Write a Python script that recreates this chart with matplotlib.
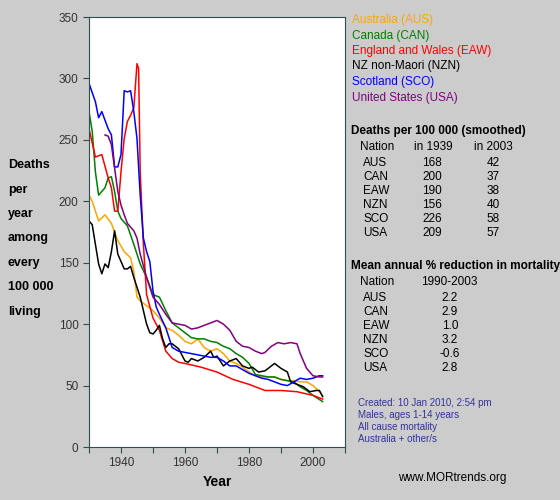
import matplotlib
matplotlib.use('Agg')
import matplotlib.pyplot as plt

plt.rcParams['font.family'] = ['Liberation Sans', 'DejaVu Sans']

# data (deaths per 100 000, smoothed)
aus_yr = [1930,1931,1933,1935,1937,1939,1941,1943,1944,1945,1946,1948,1950,1952,1954,1956,1958,1960,1962,1964,1966,1968,1970,1972,1974,1976,1978,1980,1982,1984,1986,1988,1990,1992,1994,1996,1998,2000,2002,2003]
aus = [205,200,184,189,182,168,159,154,143,122,119,115,111,105,97,95,91,86,84,88,81,78,80,76,70,68,65,61,58,57,57,57,55,54,54,53,53,50,45,42]

can_yr = [1930,1931,1932,1933,1934,1935,1936,1937,1938,1939,1940,1942,1944,1946,1948,1950,1952,1954,1956,1958,1960,1962,1964,1966,1968,1970,1972,1974,1976,1978,1980,1982,1984,1986,1988,1990,1992,1994,1996,1998,2000,2003]
can = [273,257,224,205,208,211,219,220,208,192,186,180,165,149,138,124,122,111,101,97,93,89,88,88,86,85,82,80,76,73,68,59,58,57,57,55,54,53,49,46,42,37]

eaw_yr = [1930,1932,1934,1936,1937,1938,1939,1940,1941,1942,1943,1944,1945,1945.5,1946,1947,1948,1950,1952,1954,1956,1958,1960,1965,1970,1975,1980,1985,1990,1995,2000,2003]
eaw = [259,236,238,219,211,192,192,224,251,265,270,276,312,308,224,165,124,105,95,78,72,69,68,65,61,55,51,46,46,45,42,39]

nzn_yr = [1930,1931,1932,1933,1934,1935,1936,1937,1938,1939,1940,1941,1942,1943,1944,1945,1946,1947,1948,1949,1950,1951,1952,1953,1954,1955,1956,1958,1960,1961,1962,1964,1966,1968,1969,1970,1972,1974,1976,1978,1980,1981,1983,1985,1987,1988,1990,1992,1993,1995,1997,1999,2001,2002,2003]
nzn = [184,181,165,149,141,149,146,159,176,157,151,145,145,147,138,130,122,111,100,93,92,95,99,88,81,84,84,80,70,69,72,70,73,78,73,74,66,70,72,66,64,65,61,62,66,68,64,61,53,51,49,45,46,46,41]

sco_yr = [1930,1932,1933,1934,1936,1937,1938,1939,1940,1941,1942,1943,1944,1945,1946,1947,1948,1949,1950,1951,1952,1954,1956,1958,1960,1962,1964,1966,1968,1970,1972,1974,1976,1978,1980,1982,1984,1986,1988,1990,1992,1994,1996,1998,2000,2002,2003]
sco = [296,281,268,273,259,254,228,228,238,290,289,290,273,251,205,170,159,151,127,114,108,97,81,78,77,76,75,74,73,73,70,66,66,63,60,58,56,55,53,51,50,53,56,55,56,58,58]

usa_yr = [1935,1936,1937,1938,1939,1940,1941,1942,1944,1945,1946,1948,1950,1952,1954,1956,1958,1960,1962,1964,1966,1968,1970,1972,1974,1976,1978,1980,1982,1984,1985,1987,1989,1991,1993,1995,1996,1998,2000,2002,2003]
usa = [254,253,246,227,208,197,189,182,176,170,157,138,122,116,108,101,100,99,96,97,99,101,103,100,95,86,82,81,78,76,77,82,85,84,85,84,76,64,58,57,57]

legend_names = ['Australia (AUS)', 'Canada (CAN)', 'England and Wales (EAW)',
                'NZ non-Maori (NZN)', 'Scotland (SCO)', 'United States (USA)']
colors = ['orange', 'green', 'red', 'black', 'blue', 'purple']
codes = ['AUS', 'CAN', 'EAW', 'NZN', 'SCO', 'USA']
in1939 = ['168', '200', '190', '156', '226', '209']
in2003 = ['42', '37', '38', '40', '58', '57']
reduction = ['2.2', '2.9', '1.0', '3.2', '-0.6', '2.8']

fig = plt.figure(figsize=(5.6, 5.0), dpi=100, facecolor='#cccccc')
ax = fig.add_axes([89/560, 53/500, 256/560, 430/500])
ax.set_facecolor('white')

series = [(aus_yr, aus), (can_yr, can), (eaw_yr, eaw), (nzn_yr, nzn), (sco_yr, sco), (usa_yr, usa)]
for (x, y), c in zip(series, colors):
    ax.plot(x, y, color=c, lw=1.1)

ax.set_xlim(1930, 2010)
ax.set_ylim(0, 350)
ax.set_xticks(range(1930, 2011, 10))
ax.set_xticklabels(['' if t % 20 else str(t) for t in range(1930, 2011, 10)])
ax.set_yticks(range(0, 351, 50))
for s in ax.spines.values():
    s.set_color('#2f4f4f')
ax.tick_params(colors='#2f4f4f', labelcolor='#333333', labelsize=8.5, direction='out', length=4)
ax.set_xlabel('Year', fontsize=10, fontweight='bold', labelpad=4)

def ftext(x, y, s, **kw):
    fig.text(x/560, 1 - y/500, s, va='center', **kw)

for i, lbl in enumerate(['Deaths', 'per', 'year', 'among', 'every', '100 000', 'living']):
    ftext(8, 165 + i*24.5, lbl, fontsize=9, fontweight='bold')

for i, (n, c) in enumerate(zip(legend_names, colors)):
    ftext(352, 20 + i*15.5, n, fontsize=8.5, color=c)

ftext(351, 131, 'Deaths per 100 000 (smoothed)', fontsize=8.5, fontweight='bold')
ftext(360, 147, 'Nation', fontsize=8.5)
ftext(414, 147, 'in 1939', fontsize=8.5)
ftext(474, 147, 'in 2003', fontsize=8.5)
for i in range(6):
    yy = 163 + i*14
    ftext(363, yy, codes[i], fontsize=8.5)
    ftext(432, yy, in1939[i], fontsize=8.5, ha='center')
    ftext(493, yy, in2003[i], fontsize=8.5, ha='center')

ftext(351, 266, 'Mean annual % reduction in mortality', fontsize=8.5, fontweight='bold')
ftext(360, 282, 'Nation', fontsize=8.5)
ftext(421, 282, '1990-2003', fontsize=8.5)
for i in range(6):
    yy = 298 + i*14
    ftext(363, yy, codes[i], fontsize=8.5)
    ftext(450, yy, reduction[i], fontsize=8.5, ha='center')

for i, s in enumerate(['Created: 10 Jan 2010, 2:54 pm', 'Males, ages 1-14 years',
                       'All cause mortality', 'Australia + other/s']):
    ftext(358, 403 + i*12, s, fontsize=7, color='#333399')

ftext(398, 478, 'www.MORtrends.org', fontsize=8.5)

fig.savefig('out.png', dpi=100, facecolor=fig.get_facecolor())
